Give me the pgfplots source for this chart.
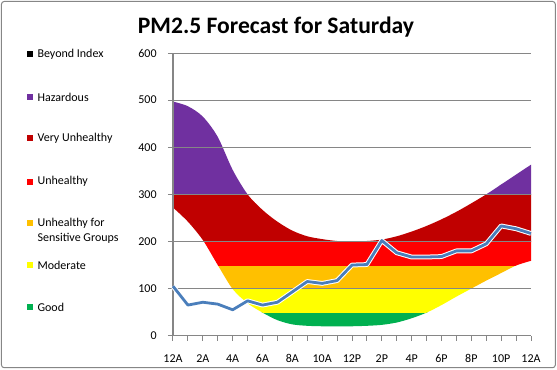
\documentclass[border=0pt]{standalone}
\usepackage{fontspec}
\setmainfont{Carlito}
\usepackage{pgfplots}
\usepackage{pgfplotstable}
\pgfplotsset{compat=1.18}
\usepgfplotslibrary{fillbetween}
\definecolor{cgood}{HTML}{00B050}
\definecolor{cmod}{HTML}{FFFF00}
\definecolor{cusg}{HTML}{FFC000}
\definecolor{cunh}{HTML}{FF0000}
\definecolor{cvunh}{HTML}{C00000}
\definecolor{chaz}{HTML}{7030A0}
\definecolor{cline}{HTML}{4A7EBB}
\definecolor{cgrid}{HTML}{868686}
% envelope of the forecast range (hour, value)
\pgfplotstableread{
h upper lower
0 497 272
1 487 242
2 465 203
3 422 150
4 352 99
5 300 69
6 267 49
7 242 33
8 223 24
9 211 21
10 205 20
11 201 20
12 200 20
13 201 21
14 204 23
15 211 28
16 221 37
17 233 49
18 247 65
19 263 83
20 281 100
21 300 117
22 321 133
23 342 149
24 363 159
}\envtable
% PM2.5 forecast
\pgfplotstableread{
h pm
0 105
1 65
2 71
3 67
4 55
5 74
6 65
7 71
8 93
9 115
10 111
11 117
12 150
13 151
14 202
15 176
16 167
17 167
18 168
19 180
20 180
21 195
22 233
23 227
24 217
}\pmtable
\pgfplotsset{
  base/.style={scale only axis, width=268.5pt, anchor=south west, xmin=0, xmax=24},
  band/.style n args={4}{base, hide axis, clip=true,
     at={(0pt,#1)}, height=#2, ymin=#3, ymax=#4},
}
\newcommand{\bandfill}[1]{%
  \addplot[name path=up, draw=none, smooth] table[x=h, y=upper] {\envtable};
  \addplot[name path=lo, draw=none, smooth] table[x=h, y=lower] {\envtable};
  \addplot[fill=#1, draw=none] fill between[of=up and lo];
}
\begin{document}
\begin{tikzpicture}
% frame, grid, ticks and labels
\begin{axis}[
  base, at={(0,0)}, height=212pt,
  ymin=0, ymax=600,
  axis x line=bottom, axis y line=left,
  axis line style={cgrid, line width=0.75pt, -},
  xtick={0,2,...,24},
  xticklabels={12A,2A,4A,6A,8A,10A,12P,2P,4P,6P,8P,10P,12A},
  minor xtick={1,3,...,23},
  ytick={0,100,...,600},
  tick align=outside,
  major tick length=3.75pt, minor tick length=3.75pt,
  tick style={cgrid, line width=0.75pt},
  ymajorgrids,
  major grid style={cgrid, line width=0.75pt},
  /pgf/number format/assume math mode=true,
  ticklabel style={font=\fontsize{9}{11}\selectfont, text=black},
  xticklabel style={yshift=-6.8pt},
  yticklabel style={xshift=-5pt},
]
\addplot[draw=none] coordinates {(0,0)};
\end{axis}
% AQI bands, each clipped to its own range
\begin{axis}[band={0pt}{17.6667pt}{0}{50}] \bandfill{cgood} \end{axis}
\begin{axis}[band={17.6667pt}{17.6667pt}{50}{100}] \bandfill{cmod} \end{axis}
\begin{axis}[band={35.3333pt}{17.6667pt}{100}{150}] \bandfill{cusg} \end{axis}
\begin{axis}[band={53pt}{17.6667pt}{150}{200}] \bandfill{cunh} \end{axis}
\begin{axis}[band={70.6667pt}{35.3333pt}{200}{300}] \bandfill{cvunh} \end{axis}
\begin{axis}[band={106pt}{106pt}{300}{600}] \bandfill{chaz} \end{axis}
% forecast line and axis lines on top
\begin{axis}[
  base, at={(0,0)}, height=212pt,
  ymin=0, ymax=600,
  axis x line=bottom, axis y line=left,
  axis line style={cgrid, line width=0.75pt, -},
  xtick=\empty, ytick=\empty, clip=false,
]
\addplot[white, line width=3.6pt, line join=round] table[x=h, y=pm] {\pmtable};
\addplot[cline, line width=2.1pt, line join=round] table[x=h, y=pm] {\pmtable};
\end{axis}
\begin{scope}[x=0.75pt, y=0.75pt]
\useasboundingbox (-173,-34.3) rectangle (384,335.7);
\draw[cgrid, line width=0.75pt, rounded corners=2pt] (-171.5,-32) rectangle (382.3,334.2);
\node[anchor=base, font=\fontsize{17.7}{20}\selectfont\bfseries, inner sep=0pt] at (103,301.7) {PM2.5 Forecast for Saturday};
\foreach \y/\c/\t in {281.7/black/Beyond Index, 238.4/chaz/Hazardous, 197.4/cvunh/Very Unhealthy, 154/cunh/Unhealthy, 112.4/cusg/Unhealthy for, 70.7/cmod/Moderate, 28.7/cgood/Good}{
  \fill[\c] (-145.5,\y-3) rectangle (-139.5,\y+3);
  \node[anchor=west, font=\fontsize{9}{11}\selectfont, inner sep=0pt] at (-135.7,\y) {\t};
}
\node[anchor=west, font=\fontsize{9}{11}\selectfont, inner sep=0pt] at (-135.7,97.4) {Sensitive Groups};
\end{scope}
\end{tikzpicture}
\end{document}
